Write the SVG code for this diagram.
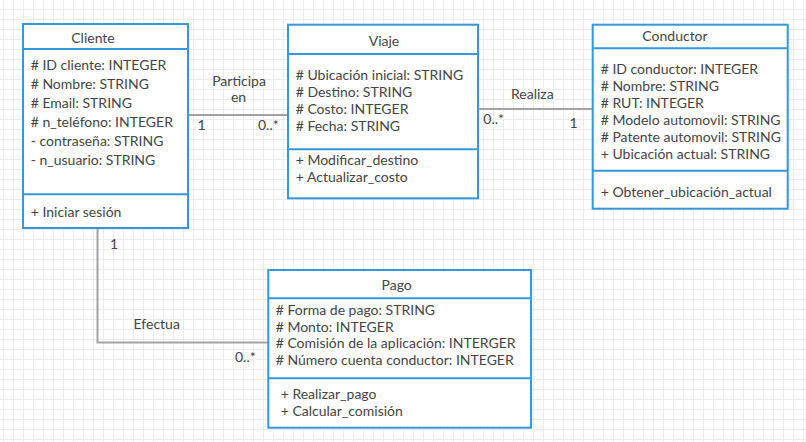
<svg xmlns="http://www.w3.org/2000/svg" width="806" height="442" viewBox="0 0 806 442">
<defs>
<pattern id="grid" x="3" y="9" width="10" height="10" patternUnits="userSpaceOnUse">
<path d="M0.5 0 V10 M0 0.5 H10" stroke="#ececec" stroke-width="1" fill="none"/>
</pattern>
<style>
text{font-family:Lato,"Open Sans","Liberation Sans",sans-serif;font-size:14px;fill:#444}
.t{text-anchor:middle}
.box{fill:#fff;stroke:#3498db;stroke-width:2}
.div{stroke:#3498db;stroke-width:2;fill:none}
.conn{stroke:#a3a3a3;stroke-width:2;fill:none}
</style>
</defs>
<rect width="806" height="442" fill="#fff"/>
<rect width="806" height="442" fill="url(#grid)"/>

<g id="connectors">
<path class="conn" d="M188 115 H288"/>
<path class="conn" d="M478 109 H593"/>
<path class="conn" d="M97.5 228 V342.5 H268"/>
<text class="t" x="239" y="86">Participa</text>
<text class="t" x="238.5" y="102.3">en</text>
<text x="197.5" y="130">1</text>
<text x="258" y="130">0..*</text>
<text class="t" x="532.3" y="99">Realiza</text>
<text x="483.3" y="124.3">0..*</text>
<text x="569.5" y="127.7">1</text>
<text x="110" y="249">1</text>
<text class="t" x="156.7" y="329">Efectua</text>
<text x="235" y="362.3">0..*</text>
</g>

<g id="cliente">
<rect class="box" x="23" y="24" width="165" height="204"/>
<path class="div" d="M23 49 H188 M23 194.3 H188"/>
<text class="t" x="93" y="43.3">Cliente</text>
<text x="30.7" y="70"># ID cliente: INTEGER</text>
<text x="30.7" y="88.9"># Nombre: STRING</text>
<text x="30.7" y="107.8"># Email: STRING</text>
<text x="30.7" y="126.7"># n_teléfono: INTEGER</text>
<text x="30.7" y="145.6">- contraseña: STRING</text>
<text x="30.7" y="164.5">- n_usuario: STRING</text>
<text x="30.7" y="216.7">+ Iniciar sesión</text>
</g>

<g id="viaje">
<rect class="box" x="288" y="24.7" width="190" height="173.6"/>
<path class="div" d="M288 54 H478 M288 149.3 H478"/>
<text class="t" x="384" y="45.7">Viaje</text>
<text x="295.7" y="80"># Ubicación inicial: STRING</text>
<text x="295.7" y="97"># Destino: STRING</text>
<text x="295.7" y="114"># Costo: INTEGER</text>
<text x="295.7" y="131"># Fecha: STRING</text>
<text x="295.7" y="165">+ Modificar_destino</text>
<text x="295.7" y="182">+ Actualizar_costo</text>
</g>

<g id="conductor">
<rect class="box" x="592.7" y="24.7" width="195" height="184"/>
<path class="div" d="M592.7 48.3 H787.7 M592.7 170.7 H787.7"/>
<text class="t" x="675" y="41">Conductor</text>
<text x="600.7" y="74.3"># ID conductor: INTEGER</text>
<text x="600.7" y="91.3"># Nombre: STRING</text>
<text x="600.7" y="108.3"># RUT: INTEGER</text>
<text x="600.7" y="125.3"># Modelo automovil: STRING</text>
<text x="600.7" y="142.3"># Patente automovil: STRING</text>
<text x="600.7" y="159.3">+ Ubicación actual: STRING</text>
<text x="600.7" y="196.7">+ Obtener_ubicación_actual</text>
</g>

<g id="pago">
<rect class="box" x="268.3" y="270" width="262.7" height="157.7"/>
<path class="div" d="M268.3 298.3 H531 M268.3 378.3 H531"/>
<text class="t" x="396.7" y="290">Pago</text>
<text x="275.7" y="315"># Forma de pago: STRING</text>
<text x="275.7" y="331.7"># Monto: INTEGER</text>
<text x="275.7" y="348.3"># Comisión de la aplicación: INTERGER</text>
<text x="275.7" y="365"># Número cuenta conductor: INTEGER</text>
<text x="280.7" y="399.3">+ Realizar_pago</text>
<text x="280.7" y="416">+ Calcular_comisión</text>
</g>
</svg>
